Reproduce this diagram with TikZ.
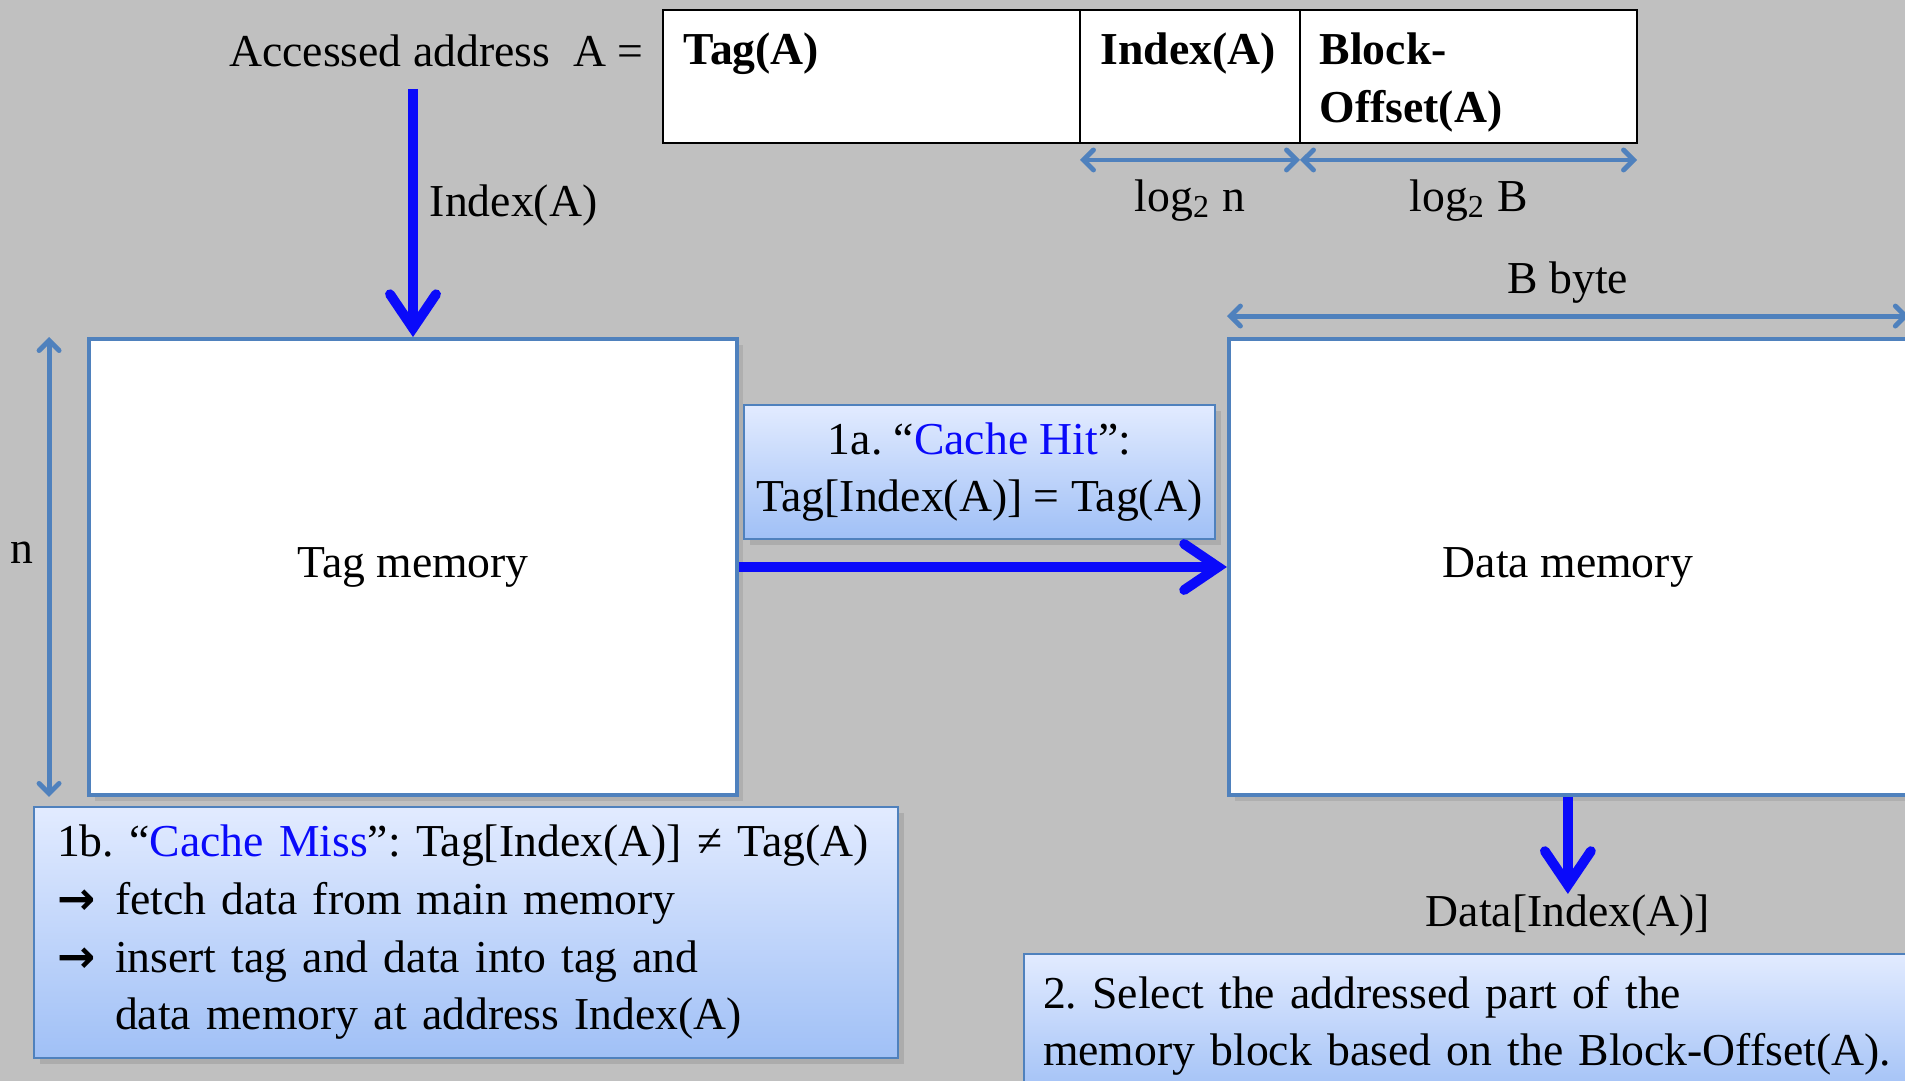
\documentclass[tikz,border=0pt]{standalone}
\usepackage{amsmath,amssymb}
\usepackage{fontspec}
\setmainfont{Liberation Serif}
\newfontfamily\arrowfont{DejaVu Sans}
\frenchspacing
\usepackage{tikz}
\usepackage{xcolor}
\usetikzlibrary{arrows.meta,positioning,shadows}
\definecolor{slidegray}{RGB}{192,192,192}
\definecolor{cacheline}{RGB}{79,129,189}
\definecolor{cacheblue}{RGB}{10,10,250}
\definecolor{notetop}{RGB}{226,235,255}
\definecolor{notebot}{RGB}{160,192,246}

\begin{document}
\begin{tikzpicture}[y=-1cm, node distance=0.2cm,
  every node/.style={font=\fontsize{13}{16.4}\selectfont, inner sep=0pt, text=black},
  field/.style={draw=black, line width=0.8pt, fill=white, outer sep=0pt, minimum height=1.33cm},
  fieldtext/.style={font=\fontsize{13}{16.4}\selectfont\bfseries, align=left, anchor=north west},
  mem/.style={draw=cacheline, line width=1.1pt, fill=white, minimum height=4.56cm,
    drop shadow={opacity=0.25, shadow xshift=0.6mm, shadow yshift=-0.6mm}},
  note/.style={draw=cacheline, line width=0.6pt, top color=notetop, bottom color=notebot,
    drop shadow={opacity=0.3, shadow xshift=0.6mm, shadow yshift=-0.6mm}},
  flow/.style={cacheblue, line width=2.8pt, -{Straight Barb[length=0.34cm, width=0.46cm, line cap=round]}},
  span/.style={cacheline, line width=1.4pt, {Straight Barb[length=0.1cm, width=0.2cm, line cap=round]}-{Straight Barb[length=0.1cm, width=0.2cm, line cap=round]}}]
\path[use as bounding box, fill=slidegray] (0,0) rectangle (19.05,10.81);
\node[field, minimum width=4.17cm] (tagf) at (8.715,0.765) {};
\node[field, minimum width=2.2cm, right=0pt of tagf] (idxf) {};
\node[field, minimum width=3.37cm, right=0pt of idxf] (offf) {};
\node[fieldtext] at ([xshift=0.2cm,yshift=-0.22cm]tagf.north west) {Tag(A)};
\node[fieldtext] at ([xshift=0.2cm,yshift=-0.22cm]idxf.north west) {Index(A)};
\node[fieldtext] at ([xshift=0.19cm,yshift=-0.22cm]offf.north west) {Block-\\Offset(A)};
\node[anchor=base east] (addr) at (6.44,0.67) {Accessed address\ \ A =};
\draw[span] ([yshift=-0.17cm]idxf.south west) -- node[midway, below=0.17cm] (logn) {log\textsubscript{2} n} ([yshift=-0.17cm]idxf.south east);
\draw[span] ([yshift=-0.17cm]offf.south west) -- node[midway, below=0.17cm] (logb) {log\textsubscript{2} B} ([yshift=-0.17cm]offf.south east);
\node[mem, minimum width=6.48cm] (tagm) at (4.13,5.67) {Tag memory};
\node[mem, minimum width=6.78cm, right=4.88cm of tagm] (datam) {Data memory};
\draw[span] ([yshift=0.21cm]datam.north west) -- node[midway, above=0.1cm] (bbyte) {B byte} ([yshift=0.21cm]datam.north east);
\draw[span] ([xshift=-0.38cm]tagm.north west) -- node[midway, left=0.13cm, yshift=0.14cm] (nlab) {n} ([xshift=-0.38cm]tagm.south west);
\coordinate (idxsrc) at (4.13,0.89);
\draw[flow] (idxsrc) -- node[pos=0.47, right=0.12cm] (idxlab) {Index(A)} (tagm.north);
\node[note, minimum width=4.71cm, minimum height=1.34cm, align=center] (hit) at (9.795,4.72) {1a. “\textcolor{cacheblue}{Cache Hit}”:\\Tag[Index(A)] = Tag(A)};
\draw[flow] (tagm.east) -- (datam.west);
\node[note, text width=8.18cm, inner xsep=0.23cm, minimum height=2.51cm, align=left] (miss) at (4.66,9.325) {1b. “\textcolor{cacheblue}{Cache Miss}”: Tag[Index(A)] ≠ Tag(A)\\
\makebox[0.58cm][l]{\arrowfont\bfseries →}fetch data from main memory\\
\makebox[0.58cm][l]{\arrowfont\bfseries →}insert tag and data into tag and\\
\hspace*{0.58cm}data memory at address Index(A)};
\node[below=0.97cm of datam] (dataout) {Data[Index(A)]};
\draw[flow] (datam.south) -- (dataout.north);
\node[note, anchor=north west, text width=8.9cm, inner xsep=0.19cm, inner ysep=0.22cm, align=left] (sel) at (10.23,9.53) {2. Select the addressed part of the\\memory block based on the Block-Offset(A).};
\end{tikzpicture}
\end{document}
